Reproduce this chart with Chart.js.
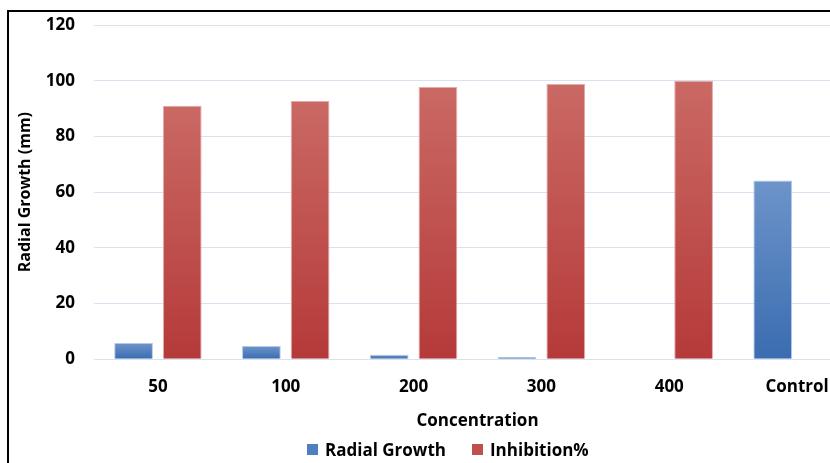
<!DOCTYPE html>
<html lang="en">
<head>
<meta charset="UTF-8">
<title>Radial Growth and Inhibition</title>
<script src="https://cdn.jsdelivr.net/npm/chart.js"></script>
<style>
  html, body { margin: 0; padding: 0; overflow: hidden; background: #fff; }
  #frame { position: absolute; left: 7px; top: 10px; width: 890px; height: 470px; border: 2px solid #000; }
  #frame canvas { display: block; }
  #legend { position: absolute; left: 307px; top: 438px; display: flex; align-items: center;
            font: bold 17px 'Open Sans', 'DejaVu Sans', sans-serif; color: #000; white-space: nowrap; }
  #legend .item { display: flex; align-items: center; margin-right: 26px; }
  #legend .box { width: 11px; height: 11px; margin-right: 7px; }
</style>
</head>
<body>
<div id="frame"><canvas id="growthChart" width="852" height="450"></canvas></div>
<div id="legend"></div>
<script>
// concentrations tested, plus the untreated control
const concentrations = ['50', '100', '200', '300', '400', 'Control'];
const radialGrowth = [5.8, 4.7, 1.6, 0.8, 0, 64.2];
const inhibition = [91, 92.7, 97.7, 98.8, 100, 0];
const yTicks = [0, 20, 40, 60, 80, 100, 120];

const FONT = "'Open Sans', 'DejaVu Sans', sans-serif";
const legendColors = ['#4f7fc0', '#c0504d'];

// vertical gradient per bar, light at the top and darker at the base
function barGradient(top, bottom) {
    return function (ctx) {
        if (ctx.type !== 'data') return bottom;
        const chart = ctx.chart;
        const y = chart.scales.y;
        if (!y) return bottom;
        const yTop = y.getPixelForValue(ctx.raw || 0);
        const yBase = y.getPixelForValue(0);
        if (!Number.isFinite(yTop) || !Number.isFinite(yBase) || yBase - yTop < 1) return bottom;
        const g = chart.ctx.createLinearGradient(0, yTop, 0, yBase);
        g.addColorStop(0, top);
        g.addColorStop(1, bottom);
        return g;
    };
}

const ctx = document.getElementById('growthChart').getContext('2d');
const growthChart = new Chart(ctx, {
    type: 'bar',
    data: {
        labels: concentrations,
        datasets: [{
            label: 'Radial Growth',
            data: radialGrowth,
            backgroundColor: barGradient('#6d94ca', '#3a6cb0'),
            borderColor: 'rgba(170,195,230,0.9)',
            borderWidth: 1,
            borderSkipped: 'bottom',
            categoryPercentage: 0.762,
            barPercentage: 0.795
        }, {
            label: 'Inhibition%',
            data: inhibition,
            backgroundColor: barGradient('#ca6964', '#b53a39'),
            borderColor: 'rgba(225,160,158,0.9)',
            borderWidth: 1,
            borderSkipped: 'bottom',
            categoryPercentage: 0.762,
            barPercentage: 0.795
        }]
    },
    options: {
        responsive: false,
        animation: false,
        layout: { padding: { left: 0, right: 0, top: 13, bottom: 31 } },
        plugins: {
            tooltip: { enabled: false },
            legend: { display: false }
        },
        scales: {
            x: {
                grid: { display: false, drawTicks: false },
                border: { display: false },
                ticks: { color: '#000', padding: 18, font: { family: FONT, size: 17, weight: 'bold' } },
                title: {
                    display: true,
                    text: 'Concentration',
                    color: '#000',
                    padding: { top: -5, bottom: 0 },
                    font: { family: FONT, size: 17, weight: 'bold' }
                }
            },
            y: {
                min: 0,
                max: 120,
                afterBuildTicks: (scale) => { scale.ticks = yTicks.map(v => ({ value: v })); },
                afterFit: (scale) => {
                    scale.width = 85;
                    scale.paddingTop = 0;
                    scale.paddingBottom = 0;
                },
                grid: { color: '#d9e2ee', lineWidth: 1, drawTicks: false },
                border: { display: false },
                ticks: { color: '#000', padding: 19, font: { family: FONT, size: 17, weight: 'bold' } },
                title: {
                    display: true,
                    text: 'Radial Growth (mm)',
                    color: '#000',
                    padding: { top: 7, bottom: 0 },
                    font: { family: FONT, size: 16, weight: 'bold' }
                }
            }
        }
    }
});

// legend entries built from the dataset labels
const legendEl = document.getElementById('legend');
growthChart.data.datasets.forEach((ds, i) => {
    const item = document.createElement('span');
    item.className = 'item';
    const box = document.createElement('span');
    box.className = 'box';
    box.style.background = legendColors[i];
    item.appendChild(box);
    item.appendChild(document.createTextNode(ds.label));
    legendEl.appendChild(item);
});
</script>
</body>
</html>
